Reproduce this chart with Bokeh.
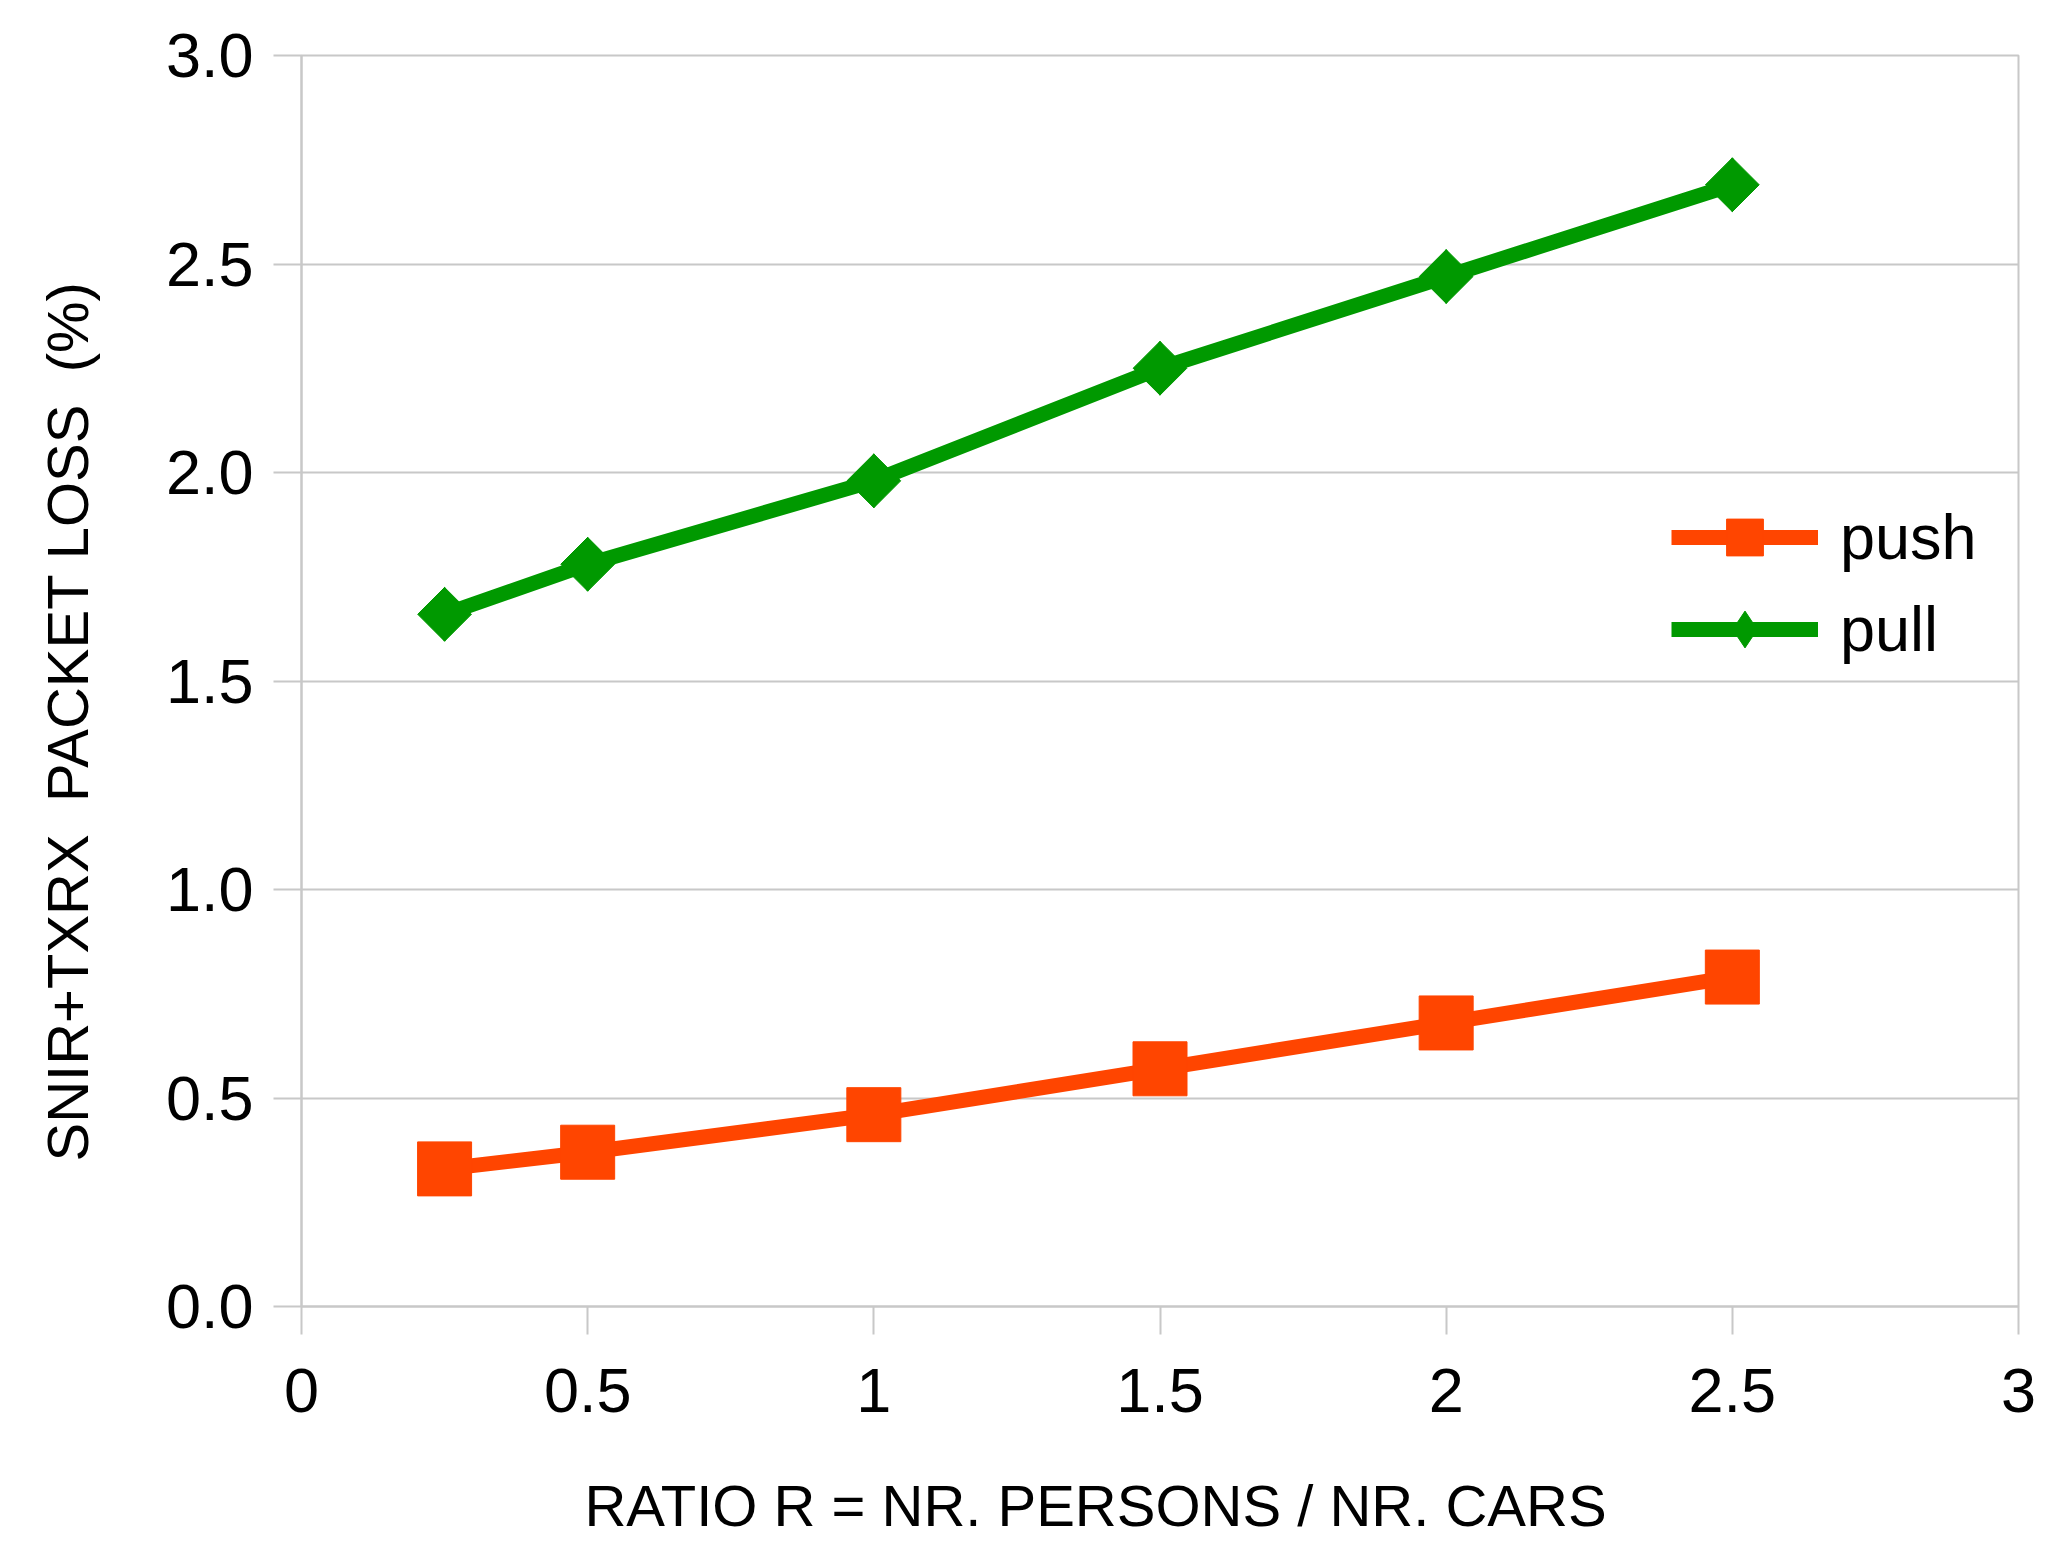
import math
from bokeh.plotting import figure
from bokeh.models import (Range1d, FixedTicker, Legend, LegendItem)
from bokeh.embed import file_html
from bokeh.resources import INLINE

# ---- data ----
ratio = [0.25, 0.5, 1.0, 1.5, 2.0, 2.5]
push_loss = [0.33, 0.37, 0.46, 0.57, 0.68, 0.79]
pull_loss = [1.66, 1.78, 1.98, 2.25, 2.47, 2.69]
x_ticks = [0, 0.5, 1, 1.5, 2, 2.5, 3]
x_tick_labels = ["0", "0.5", "1", "1.5", "2", "2.5", "3"]
y_ticks = [0, 0.5, 1.0, 1.5, 2.0, 2.5, 3.0]
y_tick_labels = ["0.0", "0.5", "1.0", "1.5", "2.0", "2.5", "3.0"]
series_names = ["push", "pull"]
x_title = "RATIO R = NR. PERSONS / NR. CARS"
y_title = "SNIR+TXRX \u00a0PACKET LOSS \u00a0(%)"

PUSH_COLOR = "#ff4500"
PULL_COLOR = "#009900"
GRID = "#c8c8c8"
FONT = "Liberation Sans"
NB = "\u00a0"

p = figure(width=2052, height=1542, output_backend="svg", toolbar_location=None,
           x_range=Range1d(0, 3), y_range=Range1d(0, 3),
           min_border_left=301, min_border_right=34, min_border_top=55,
           min_border_bottom=236)
p.background_fill_color = "white"
p.border_fill_color = "white"
p.outline_line_color = GRID
p.outline_line_width = 2

p.xgrid.visible = False
p.ygrid.ticker = FixedTicker(ticks=y_ticks)
p.ygrid.grid_line_color = GRID
p.ygrid.grid_line_width = 2

for ax in (p.xaxis[0], p.yaxis[0]):
    ax.axis_line_color = GRID
    ax.axis_line_width = 2
    ax.major_tick_line_color = GRID
    ax.major_tick_line_width = 2
    ax.major_tick_out = 28
    ax.major_tick_in = 0
    ax.minor_tick_line_color = None
    ax.major_label_text_font = FONT
    ax.major_label_text_font_size = "63px"
    ax.major_label_text_color = "black"
    ax.axis_label_text_font = FONT
    ax.axis_label_text_font_size = "58px"
    ax.axis_label_text_font_style = "normal"
    ax.axis_label_text_color = "black"

p.xaxis[0].ticker = FixedTicker(ticks=x_ticks)
p.xaxis[0].major_label_overrides = {t: l for t, l in zip(x_ticks, x_tick_labels)}
p.xaxis[0].major_label_standoff = 34
# trailing no-break spaces shift the visible title off-centre, as in the original
p.xaxis[0].axis_label = x_title + NB * 8
p.xaxis[0].axis_label_standoff = 58

p.yaxis[0].ticker = FixedTicker(ticks=y_ticks)
p.yaxis[0].major_label_overrides = {t: l for t, l in zip(y_ticks, y_tick_labels)}
p.yaxis[0].major_label_standoff = 20
p.yaxis[0].axis_label = y_title + NB * 5
p.yaxis[0].axis_label_standoff = 63

# lines + markers
l_push = p.line(ratio, push_loss, line_color=PUSH_COLOR, line_width=15)
s_push = p.scatter(ratio, push_loss, marker="square", size=54,
                   fill_color=PUSH_COLOR, line_color=PUSH_COLOR)
l_pull = p.line(ratio, pull_loss, line_color=PULL_COLOR, line_width=15)
# narrow diamond (used as the legend symbol), covered by the rotated square
s_pull_leg = p.scatter(ratio, pull_loss, marker="diamond", size=54,
                       fill_color=PULL_COLOR, line_color=PULL_COLOR)
s_pull = p.scatter(ratio, pull_loss, marker="square", size=38, angle=math.pi / 4,
                   fill_color=PULL_COLOR, line_color=PULL_COLOR)

legend = Legend(items=[LegendItem(label=series_names[0], renderers=[l_push, s_push]),
                       LegendItem(label=series_names[1], renderers=[l_pull, s_pull_leg])],
                location=(1370, 631), orientation="vertical",
                glyph_width=147, glyph_height=92, spacing=0, padding=0, margin=0,
                label_standoff=22, label_text_font=FONT, label_text_font_size="63px",
                label_text_color="black", border_line_alpha=0, background_fill_alpha=0)
p.add_layout(legend)

open("out.html", "w").write(file_html(p, INLINE))
